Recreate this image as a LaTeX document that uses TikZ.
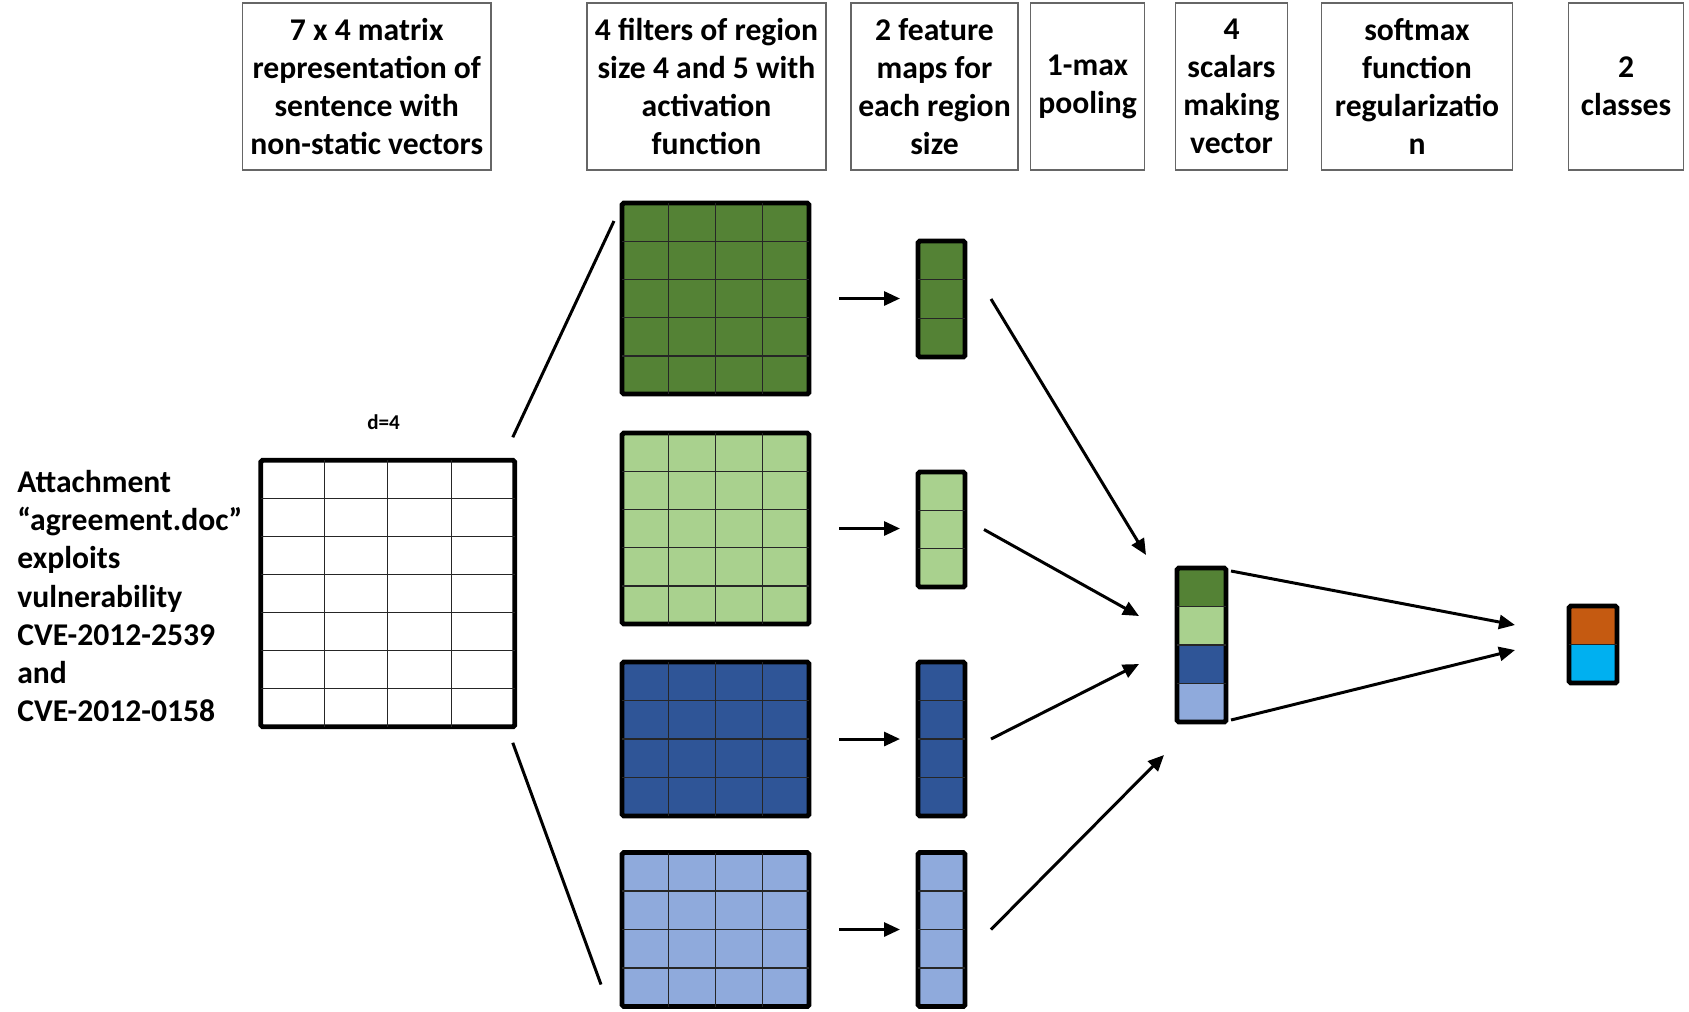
\documentclass[tikz,border=0pt]{standalone}
\usepackage{fontspec}
\setmainfont{Carlito}
\usepackage{tikz}
\usetikzlibrary{arrows.meta, calc, backgrounds}
\definecolor{cnngreen}{HTML}{548235}
\definecolor{cnnlight}{HTML}{A9D18E}
\definecolor{cnnblue}{HTML}{2F5597}
\definecolor{cnnsky}{HTML}{8FAADC}
\definecolor{cnnorange}{HTML}{C55A11}
\definecolor{cnncyan}{HTML}{00B0F0}

\newcommand{\cellgrid}[3]{%
  \foreach \c in {1,...,#2}{\ifnum\c<#2\relax
    \draw[cellline] ($(#1.north west)!{\c/#2}!(#1.north east)$) -- ($(#1.south west)!{\c/#2}!(#1.south east)$);\fi}
  \foreach \r in {1,...,#3}{\ifnum\r<#3\relax
    \draw[cellline] ($(#1.north west)!{\r/#3}!(#1.south west)$) -- ($(#1.north east)!{\r/#3}!(#1.south east)$);\fi}}

\begin{document}
\begin{tikzpicture}[
  headbox/.style={draw=black!60, line width=0.8pt, minimum height=3.34cm, inner sep=0pt, align=center, font=\bfseries\fontsize{18}{21.6}\selectfont},
  gridbox/.style={draw=black, line width=2.8pt, rounded corners=1pt, outer sep=0pt, inner sep=0pt},
  cellline/.style={black!85, line width=0.8pt},
  arr/.style={-{Triangle[length=0.32cm, width=0.28cm]}, line width=1.7pt},
  funnel/.style={line width=1.7pt}
]
  \useasboundingbox (0,0) rectangle (33.78,-20.22);

  \node[headbox, minimum width=4.97cm] (hmat) at (7.335,-1.73) {7 x 4 matrix\\representation of\\sentence with\\non-static vectors};
  \node[headbox, minimum width=4.78cm] (hfilt) at (14.13,-1.73) {4 filters of region\\size 4 and 5 with\\activation\\function};
  \node[headbox, minimum width=3.34cm] (hmaps) at (18.69,-1.73) {2 feature\\maps for\\each region\\size};
  \node[headbox, minimum width=2.28cm] (hpool) at (21.75,-1.73) {1-max\\pooling};
  \node[headbox, minimum width=2.25cm] (hvec) at (24.63,-1.73) {4\\scalars\\making\\vector};
  \node[headbox, minimum width=3.83cm] (hsoft) at (28.34,-1.73) {softmax\\function\\regularizatio\\n};
  \node[headbox, minimum width=2.29cm] (hcls) at (32.52,-1.73) {2\\classes};

  \node[anchor=west, align=left, inner sep=0pt, font=\bfseries\fontsize{18}{21.7}\selectfont] (sent) at (0.34,-11.92) {Attachment\\“agreement.doc”\\exploits\\vulnerability\\CVE-2012-2539\\and\\CVE-2012-0158};
  \node[font=\bfseries\fontsize{12}{14}\selectfont] (dlabel) at (7.67,-8.44) {d=4};

  \node[gridbox, fill=white, minimum width=5.08cm, minimum height=5.33cm] (mat) at (7.755,-11.87) {};
  \cellgrid{mat}{4}{7}

  \node[gridbox, fill=cnngreen, minimum width=3.74cm, minimum height=3.82cm] (f1) at (14.31,-5.97) {};
  \node[gridbox, fill=cnnlight, minimum width=3.74cm, minimum height=3.82cm] (f2) at (14.31,-10.57) {};
  \node[gridbox, fill=cnnblue, minimum width=3.74cm, minimum height=3.08cm] (f3) at (14.31,-14.78) {};
  \node[gridbox, fill=cnnsky, minimum width=3.74cm, minimum height=3.08cm] (f4) at (14.31,-18.59) {};
  \cellgrid{f1}{4}{5}
  \cellgrid{f2}{4}{5}
  \cellgrid{f3}{4}{4}
  \cellgrid{f4}{4}{4}

  \node[gridbox, fill=cnngreen, minimum width=0.94cm, minimum height=2.32cm] (m1) at (18.83,-5.98) {};
  \node[gridbox, fill=cnnlight, minimum width=0.94cm, minimum height=2.30cm] (m2) at (18.83,-10.59) {};
  \node[gridbox, fill=cnnblue, minimum width=0.94cm, minimum height=3.08cm] (m3) at (18.83,-14.78) {};
  \node[gridbox, fill=cnnsky, minimum width=0.94cm, minimum height=3.08cm] (m4) at (18.83,-18.59) {};
  \cellgrid{m1}{1}{3}
  \cellgrid{m2}{1}{3}
  \cellgrid{m3}{1}{4}
  \cellgrid{m4}{1}{4}

  \node[gridbox, minimum width=0.98cm, minimum height=3.08cm] (pool) at (24.03,-12.90) {};
  \node[gridbox, minimum width=0.96cm, minimum height=1.54cm] (out) at (31.86,-12.89) {};
  \begin{scope}[on background layer]
    \foreach \col [count=\k] in {cnngreen,cnnlight,cnnblue,cnnsky}
      \fill[\col] ($(pool.north west)!{(\k-1)/4}!(pool.south west)$) rectangle ($(pool.north east)!{\k/4}!(pool.south east)$);
    \fill[cnnorange] (out.north west) rectangle (out.east);
    \fill[cnncyan] (out.west) rectangle (out.south east);
  \end{scope}
  \cellgrid{pool}{1}{4}
  \cellgrid{out}{1}{2}

  \draw[funnel] ([shift={(-0.04,0.46)}]mat.north east) -- ([shift={(-0.16,-0.36)}]f1.north west);
  \draw[funnel] ([shift={(-0.04,-0.32)}]mat.south east) -- ([shift={(-0.42,0.44)}]f4.south west);

  \foreach \i in {1,...,4}
    \draw[arr] ([xshift=0.6cm]f\i.east) -- ([xshift=-0.36cm]m\i.west |- f\i.east);

  \draw[arr] ([xshift=0.52cm]m1.east) -- ([shift={(-0.62,0.26)}]pool.north west);
  \draw[arr] ([xshift=0.38cm]m2.east) -- ([shift={(-0.76,0.58)}]pool.west);
  \draw[arr] ([xshift=0.52cm]m3.east) -- ([shift={(-0.76,-0.38)}]pool.west);
  \draw[arr] ([xshift=0.52cm]m4.east) -- ([shift={(-0.26,-0.66)}]pool.south west);

  \draw[arr] ([shift={(0.10,-0.06)}]pool.north east) -- ([shift={(-1.08,0.39)}]out.west);
  \draw[arr] ([shift={(0.10,0.04)}]pool.south east) -- ([shift={(-1.08,-0.11)}]out.west);
\end{tikzpicture}
\end{document}
